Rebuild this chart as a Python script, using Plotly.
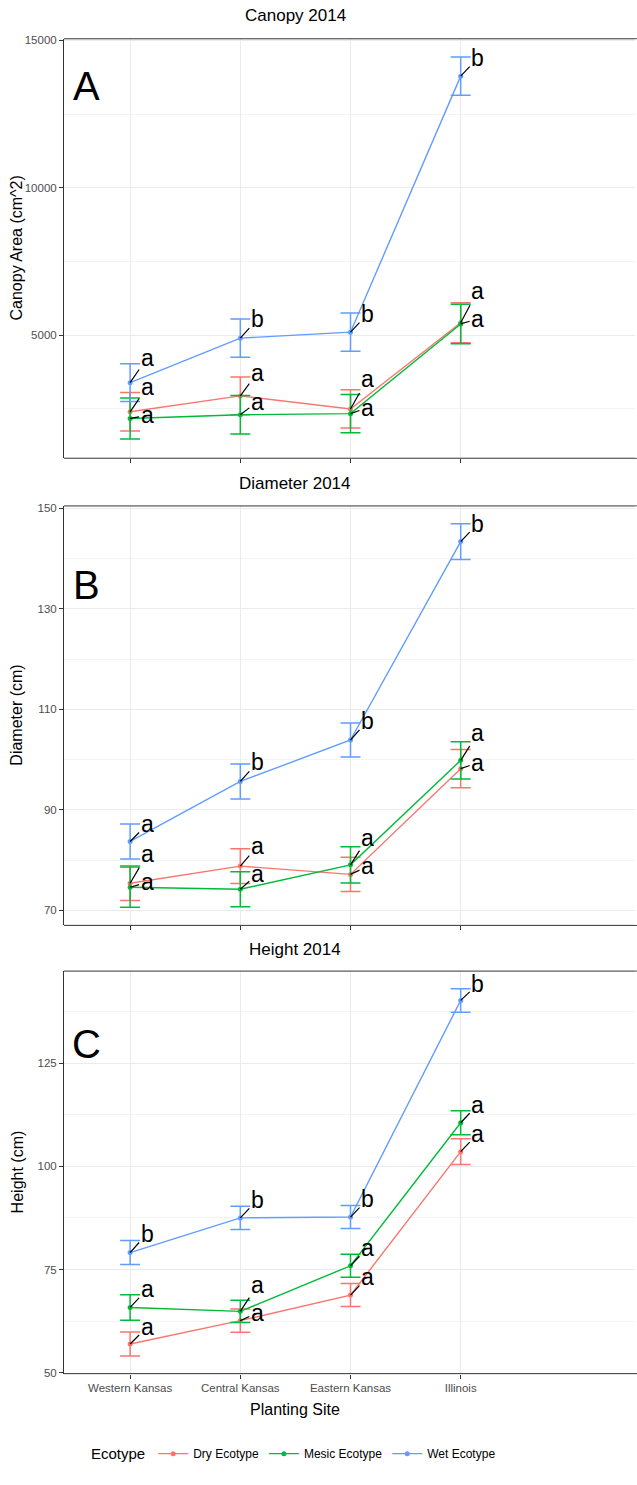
import plotly.graph_objects as go

# ---- data -------------------------------------------------------------
sites = ["Western Kansas", "Central Kansas", "Eastern Kansas", "Illinois"]
ecotypes = ["Dry Ecotype", "Mesic Ecotype", "Wet Ecotype"]

canopy_mean = {
    "Dry Ecotype": [2405, 2944, 2502, 5425],
    "Mesic Ecotype": [2180, 2305, 2342, 5385],
    "Wet Ecotype": [3392, 4903, 5106, 13790],
}
canopy_se = {
    "Dry Ecotype": [655, 640, 647, 675],
    "Mesic Ecotype": [695, 652, 650, 668],
    "Wet Ecotype": [640, 652, 646, 652],
}
canopy_letters = {
    "Dry Ecotype": ["a", "a", "a", "a"],
    "Mesic Ecotype": ["a", "a", "a", "a"],
    "Wet Ecotype": ["a", "b", "b", "b"],
}

diameter_mean = {
    "Dry Ecotype": [75.4, 78.8, 77.15, 98.2],
    "Mesic Ecotype": [74.6, 74.2, 79.05, 99.85],
    "Wet Ecotype": [83.7, 95.65, 103.9, 143.4],
}
diameter_se = {
    "Dry Ecotype": [3.45, 3.45, 3.4, 3.8],
    "Mesic Ecotype": [4.0, 3.5, 3.6, 3.7],
    "Wet Ecotype": [3.5, 3.5, 3.4, 3.55],
}
diameter_letters = {
    "Dry Ecotype": ["a", "a", "a", "a"],
    "Mesic Ecotype": ["a", "a", "a", "a"],
    "Wet Ecotype": ["a", "b", "b", "b"],
}

height_mean = {
    "Dry Ecotype": [56.95, 62.6, 68.8, 103.55],
    "Mesic Ecotype": [65.8, 64.85, 75.9, 110.55],
    "Wet Ecotype": [79.1, 87.5, 87.7, 140.2],
}
height_se = {
    "Dry Ecotype": [2.9, 2.8, 2.8, 3.1],
    "Mesic Ecotype": [3.1, 2.7, 2.8, 2.9],
    "Wet Ecotype": [2.9, 2.8, 2.8, 2.85],
}
height_letters = {
    "Dry Ecotype": ["a", "a", "a", "a"],
    "Mesic Ecotype": ["a", "a", "a", "a"],
    "Wet Ecotype": ["b", "b", "b", "b"],
}

# ---- label placement (vertical pixel offsets of the repelled letters) --
canopy_nudge = {
    "Dry Ecotype": [-23, -21, -28, -30],
    "Mesic Ecotype": [-1, -11, -4, -3],
    "Wet Ecotype": [-23, -17, -16, -16],
}
diameter_nudge = {
    "Dry Ecotype": [-27, -18, -6, -4],
    "Mesic Ecotype": [-3, -13, -25, -25],
    "Wet Ecotype": [-15, -17, -17, -16],
}
height_nudge = {
    "Dry Ecotype": [-15, -6, -16, -16],
    "Mesic Ecotype": [-16, -24, -16, -16],
    "Wet Ecotype": [-17, -16, -16, -14],
}

# ---- styling ----------------------------------------------------------
W, H = 637, 1485
FONT = "Liberation Sans, Arial, Helvetica, sans-serif"
colors = {"Dry Ecotype": "#F8766D", "Mesic Ecotype": "#00BA38", "Wet Ecotype": "#619CFF"}
BORDER = "#333333"
GRID = "#ebebeb"
MINOR = "#f4f4f4"
PLOT_LEFT = 64
TITLE_X = 295


def px(x):
    return x / W


def py(y):
    return 1 - y / H


panels = [
    dict(mean=canopy_mean, se=canopy_se, sig=canopy_letters, nudge=canopy_nudge,
         title="Canopy 2014", ylab="Canopy Area (cm^2)", tag="A",
         top=35, bottom=457, yrange=[830, 15057], dtick=5000, tick0=0, minor=2500,
         tag_y=82, title_y=12),
    dict(mean=diameter_mean, se=diameter_se, sig=diameter_letters, nudge=diameter_nudge,
         title="Diameter 2014", ylab="Diameter (cm)", tag="B",
         top=505, bottom=927, yrange=[67.0, 150.5], dtick=20, tick0=70, minor=10,
         tag_y=585, title_y=482),
    dict(mean=height_mean, se=height_se, sig=height_letters, nudge=height_nudge,
         title="Height 2014", ylab="Height (cm)", tag="C",
         top=973, bottom=1378, yrange=[49.76, 147.3], dtick=25, tick0=0, minor=12.5,
         tag_y=1046, title_y=951),
]

fig = go.Figure()
annotations = []
shapes = []
layout = {}

for i, p in enumerate(panels):
    n = "" if i == 0 else str(i + 1)
    xref, yref = "x" + n, "y" + n
    last = i == len(panels) - 1

    for eco in ecotypes:
        fig.add_trace(go.Scatter(
            x=sites, y=p["mean"][eco],
            error_y=dict(type="data", array=p["se"][eco], visible=True,
                         color=colors[eco], thickness=1.5, width=10),
            mode="lines+markers",
            line=dict(color=colors[eco], width=1.4),
            marker=dict(color=colors[eco], size=5),
            name=eco, legendgroup=eco, showlegend=(i == 0),
            xaxis=xref, yaxis=yref, hoverinfo="skip",
        ))
        for j, site in enumerate(sites):
            annotations.append(dict(
                x=site, y=p["mean"][eco][j], xref=xref, yref=yref,
                text=p["sig"][eco][j], showarrow=True, arrowhead=0,
                arrowwidth=1.2, arrowcolor="black", standoff=0,
                ax=17, ay=p["nudge"][eco][j] - 2,
                font=dict(family=FONT, size=23, color="black"),
            ))

    dom_y = [py(p["bottom"]), py(p["top"])]
    layout["xaxis" + n] = dict(
        domain=[px(PLOT_LEFT), 1], anchor=yref, type="category",
        categoryorder="array", categoryarray=sites, range=[-0.6, 4.6],
        tickmode="array", tickvals=sites, ticktext=sites,
        showgrid=True, gridcolor=GRID, gridwidth=1.2,
        showline=False, zeroline=False,
        ticks="outside", ticklen=4, tickcolor=BORDER, tickwidth=1,
        showticklabels=last,
        tickfont=dict(family=FONT, size=11.5, color="#4d4d4d"),
    )
    layout["yaxis" + n] = dict(
        domain=dom_y, anchor=xref, range=p["yrange"],
        tickmode="linear", tick0=p["tick0"], dtick=p["dtick"], tickformat="d",
        showgrid=True, gridcolor=GRID, gridwidth=1.2,
        minor=dict(tickmode="linear", tick0=p["tick0"], dtick=p["minor"],
                   showgrid=True, gridcolor=MINOR, gridwidth=1),
        showline=True, linecolor=BORDER, linewidth=1, mirror=False,
        ticks="outside", ticklen=4, tickcolor=BORDER, tickwidth=1,
        zeroline=False,
        tickfont=dict(family=FONT, size=11.5, color="#4d4d4d"),
    )
    # panel border: the plot area runs past the right edge of the canvas,
    # so only the top and bottom edges are drawn (the left one is the y axis line)
    for edge in (p["top"], p["bottom"]):
        shapes.append(dict(type="line", xref="paper", yref="paper", layer="above",
                           x0=px(PLOT_LEFT), x1=1, y0=py(edge), y1=py(edge),
                           line=dict(color=BORDER, width=1)))
    shapes.append(dict(type="rect", xref="paper", yref="paper", layer="above",
                       x0=px(W - 2), x1=1, y0=py(p["bottom"] - 0.6), y1=py(p["top"] + 0.6),
                       line=dict(width=0), fillcolor="white"))
    # panel title, tag letter and y-axis title
    annotations.append(dict(x=px(TITLE_X), y=py(p["title_y"]), xref="paper", yref="paper",
                            text=p["title"], showarrow=False, xanchor="center", yanchor="middle",
                            font=dict(family=FONT, size=17, color="black")))
    annotations.append(dict(x=px(86), y=py(p["tag_y"]), xref="paper", yref="paper",
                            text=p["tag"], showarrow=False, xanchor="center", yanchor="middle",
                            font=dict(family=FONT, size=40, color="black")))
    annotations.append(dict(x=px(17), y=py((p["top"] + p["bottom"]) / 2), xref="paper", yref="paper",
                            text=p["ylab"], showarrow=False, textangle=-90,
                            xanchor="center", yanchor="middle",
                            font=dict(family=FONT, size=16, color="black")))

annotations.append(dict(x=px(TITLE_X), y=py(1414), xref="paper", yref="paper",
                        text="Planting Site", showarrow=False, xanchor="center", yanchor="middle",
                        font=dict(family=FONT, size=16, color="black")))

fig.update_layout(
    width=W, height=H,
    margin=dict(l=0, r=0, t=0, b=0),
    plot_bgcolor="white", paper_bgcolor="white",
    annotations=annotations, shapes=shapes,
    legend=dict(orientation="h", x=px(TITLE_X), xanchor="center",
                y=py(1459), yanchor="middle",
                title=dict(text="Ecotype", font=dict(family=FONT, size=15, color="black")),
                font=dict(family=FONT, size=12, color="black"),
                itemwidth=30, tracegroupgap=0),
    **layout,
)

fig.write_html("out.html")
